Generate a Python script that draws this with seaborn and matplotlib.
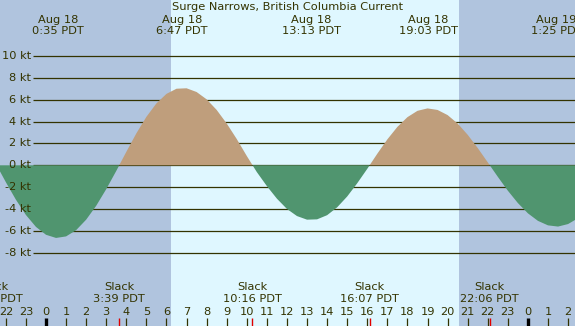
"""
Surge Narrows tidal current chart, Aug 18 (PDT).
"""

import numpy as np
import pandas as pd
import matplotlib
matplotlib.use("Agg")
import matplotlib.pyplot as plt
import seaborn as sns


# =====================================================
# Data
# =====================================================

TITLE = "Surge Narrows, British Columbia Current"

# sample times, hours after Aug 18 00:00 PDT
hours = np.arange(-2.5, 27.0, 0.5)

# current speed in knots at each sample (flood > 0, ebb < 0)
speed_kt = [
    0.15, -1.54, -3.14, -4.54, -5.63, -6.35, -6.64, -6.50, -5.93, -4.97,
    -3.70, -2.18, -0.51, 1.23, 2.92, 4.43, 5.66, 6.53, 7.00, 7.04,
    6.70, 6.03, 5.06, 3.82, 2.40, 0.85, -0.62, -1.90, -3.05, -3.99,
    -4.64, -4.97, -4.94, -4.56, -3.84, -2.85, -1.64, -0.32, 1.06, 2.37,
    3.51, 4.40, 4.98, 5.20, 5.06, 4.59, 3.82, 2.79, 1.58, 0.27,
    -1.05, -2.32, -3.45, -4.39, -5.08, -5.49, -5.60, -5.37, -4.83,
]

# max flood / max ebb events
max_hours = [0.583, 6.783, 13.217, 19.05, 25.417]
max_dates = ["Aug 18", "Aug 18", "Aug 18", "Aug 18", "Aug 19"]
max_times = ["0:35 PDT", "6:47 PDT", "13:13 PDT", "19:03 PDT", "1:25 PDT"]

# slack water events
slack_hours = [-2.62, 3.65, 10.267, 16.117, 22.1]
slack_times = ["21:23 PDT", "3:39 PDT", "10:16 PDT", "16:07 PDT", "22:06 PDT"]

# daylight window
sunrise_h = 6.22
sunset_h = 20.57

kt_levels = [-8, -6, -4, -2, 0, 2, 4, 6, 8, 10]
hour_ticks = list(range(-2, 27))


# =====================================================
# Styling
# =====================================================

W, H = 575, 326
PX_PER_HOUR = 20.08
PX_PER_KT = 10.94
X_ZERO_PX = 46.0      # pixel column of Aug 18 00:00
Y_ZERO_PX = 165.3     # pixel row of 0 kt
FS = 8.2

NIGHT = "#b0c4de"
DAY = "#dff7ff"
FLOOD = "#bf9e7c"
EBB = "#50956f"
FG = "#333300"
SLACK_TICK = "#e00000"


def hx(px):
    """pixel column -> hours"""
    return (px - X_ZERO_PX) / PX_PER_HOUR


def fy(py):
    """pixel row -> axes fraction"""
    return 1 - py / H


sns.set_style("white")
plt.rcParams["font.family"] = ["DejaVu Sans"]

df = pd.DataFrame({"hour": hours, "kt": speed_kt})

fig = plt.figure(figsize=(W / 100, H / 100), dpi=100, facecolor=NIGHT)
ax = fig.add_axes([0, 0, 1, 1], facecolor=NIGHT)
ax.set_xlim(hx(0), hx(W))
ax.set_ylim(-(H - Y_ZERO_PX) / PX_PER_KT, Y_ZERO_PX / PX_PER_KT)

# day shading
ax.axvspan(sunrise_h, sunset_h, color=DAY, lw=0, zorder=0)

# horizontal kt lines + labels
ax.hlines(kt_levels, hx(33), hx(W), color=FG, lw=0.9, zorder=1)
for lv in kt_levels:
    ax.text(hx(31), lv, f"{lv} kt", ha="right", va="center",
            fontsize=FS, color=FG, zorder=3)

# current curve
ax.fill_between(df["hour"], 0, df["kt"], where=df["kt"] >= 0,
                interpolate=True, color=FLOOD, lw=0, zorder=2)
ax.fill_between(df["hour"], 0, df["kt"], where=df["kt"] <= 0,
                interpolate=True, color=EBB, lw=0, zorder=2)
sns.lineplot(data=df, x="hour", y="kt", ax=ax, lw=0, zorder=2)

# title and max-current labels
xt = ax.get_xaxis_transform()
ax.text(0.5, fy(7), TITLE, transform=ax.transAxes, ha="center",
        va="center", fontsize=FS, color=FG)
for h, d, t in zip(max_hours, max_dates, max_times):
    ax.text(h, fy(20), d, transform=xt, ha="center", va="center",
            fontsize=FS, color=FG)
    ax.text(h, fy(31.5), t, transform=xt, ha="center", va="center",
            fontsize=FS, color=FG)

# slack labels
for h, t in zip(slack_hours, slack_times):
    ax.text(h, fy(287.3), "Slack", transform=xt, ha="center",
            va="center", fontsize=FS, color=FG)
    ax.text(h, fy(299.3), t, transform=xt, ha="center", va="center",
            fontsize=FS, color=FG)

# hour axis
for h in hour_ticks:
    ax.text(h, fy(311.7), str(h % 24), transform=xt, ha="center",
            va="center", fontsize=FS, color=FG)
    if h % 24 == 0:
        ax.vlines(h, 0, fy(318), transform=xt, color="black", lw=2.4)
    else:
        ax.vlines(h, 0, fy(318), transform=xt, color=FG, lw=0.9)
ax.vlines(slack_hours, 0, fy(318), transform=xt, color=SLACK_TICK, lw=1.0)

ax.set_xticks([])
ax.set_yticks([])
ax.set_xlabel("")
ax.set_ylabel("")
for s in ax.spines.values():
    s.set_visible(False)

fig.savefig("out.png", dpi=100, facecolor=NIGHT)
